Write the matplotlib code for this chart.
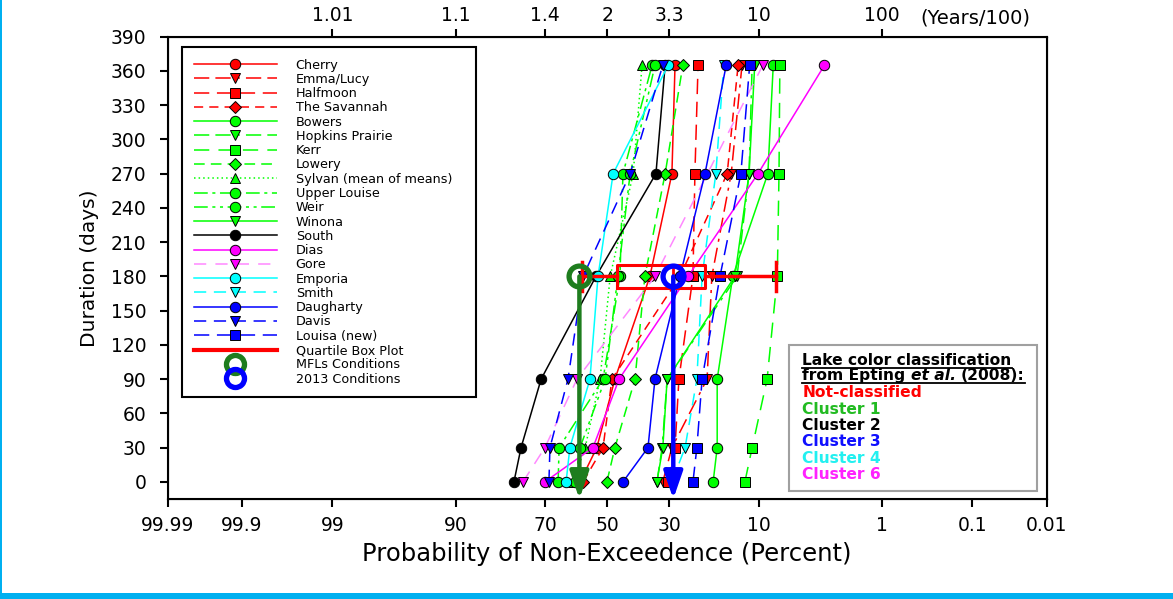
"""
Duration vs. probability of non-exceedence for lake stages (normal probability axis).
"""

from statistics import NormalDist

import matplotlib
matplotlib.use("Agg")
import matplotlib.pyplot as plt
import numpy as np
from matplotlib.lines import Line2D
from matplotlib.patches import Rectangle

# ---------------------------------------------------------------- data
DURATIONS = [0, 30, 90, 180, 270, 365]

# percent non-exceedence at each duration (None = not plotted)
cherry = [59.1, 53.5, 47.4, 35.9, 29.2, 28.3]
emma_lucy = [31.9, 29.2, 19.9, 18.8, 14.7, 12.7]
halfmoon = [30.3, 28.3, 27.2, 23.4, 22.9, 22.1]
the_savannah = [58.1, 51.4, 48.4, 26.9, 15.5, 13.4]
bowers = [18.5, 17.6, 17.6, 14.4, 8.7, 8.0]
hopkins_prairie = [33.7, 32.1, 30.6, 13.6, 11.5, 11.0]
kerr = [12.2, 11.0, 8.8, 7.5, 7.3, 7.2]
lowery = [50.1, 47.4, 40.7, 37.5, 31.2, 26.1]
sylvan = [61.4, 57.4, 52.4, 49.0, 41.3, 38.4]
upper_louise = [66.1, 65.8, 51.4, 45.7, 44.7, 35.2]
weir = [60.7, 59.1, 50.7, 46.4, 42.3, 34.3]
winona = [33.7, 31.9, 30.6, 14.0, 11.5, 10.6]
south = [78.5, 76.7, 71.2, 53.8, 34.0, 31.2]
dias = [70.1, 54.8, 46.0, 24.7, 10.1, 3.3]
gore = [76.2, 70.1, 60.1, 34.3, None, 9.4]
emporia = [63.6, 62.4, 55.8, 53.1, 48.0, 30.3]
smith = [29.2, 25.5, 22.4, 21.1, 17.9, 16.2]
daugharty = [44.7, 36.5, 34.3, 26.9, 20.4, 15.7]
davis = [68.9, 68.6, 63.0, 58.1, 42.3, 31.9]
louisa_new = [23.4, 22.4, 21.1, 17.0, 12.9, 11.4]

# quartile box plot of the 180-day values
BOX_DURATION = 180
box_stats = dict(whislo=58.4, q1=46.8, med=28.8, q3=20.4, whishi=7.6)

MFL_POINT = (59.3, 180)
POINT_2013 = (28.8, 180)

PROB_TICKS = [99.99, 99.9, 99, 90, 70, 50, 30, 10, 1, 0.1, 0.01]
PROB_LABELS = ["99.99", "99.9", "99", "90", "70", "50", "30", "10", "1", "0.1", "0.01"]
RETURN_TICKS = [99, 90, 70, 50, 30, 10, 1]
RETURN_LABELS = ["1.01", "1.1", "1.4", "2", "3.3", "10", "100"]

CLASS_LABELS = ["Not-classified", "Cluster 1", "Cluster 2", "Cluster 3", "Cluster 4", "Cluster 6"]
CLASS_COLORS = ["#FF0000", "#22BB22", "#000000", "#1010FF", "#22F0F0", "#FF22FF"]

# ---------------------------------------------------------------- styles
RED, GREEN, BLACK = "#FF0000", "#00FF00", "#000000"
MAGENTA, CYAN, BLUE = "#FF00FF", "#00FFFF", "#0000FF"
DARK_GREEN = "#1E7D1E"

DASHDOT2 = (0, (10, 4, 10, 4, 2, 4))
SERIES = [
    ("Cherry", cherry, RED, "o", "-"),
    ("Emma/Lucy", emma_lucy, RED, "v", DASHDOT2),
    ("Halfmoon", halfmoon, RED, "s", (0, (10, 5))),
    ("The Savannah", the_savannah, RED, "D", (0, (6, 4))),
    ("Bowers", bowers, GREEN, "o", "-"),
    ("Hopkins Prairie", hopkins_prairie, GREEN, "v", DASHDOT2),
    ("Kerr", kerr, GREEN, "s", (0, (10, 6))),
    ("Lowery", lowery, GREEN, "D", (0, (7, 4))),
    ("Sylvan (mean of means)", sylvan, GREEN, "^", (0, (1, 2))),
    ("Upper Louise", upper_louise, GREEN, "o", (0, (9, 3, 2, 3))),
    ("Weir", weir, GREEN, "o", (0, (9, 3, 2, 3, 2, 3))),
    ("Winona", winona, GREEN, "v", "-"),
    ("South", south, BLACK, "o", "-"),
    ("Dias", dias, MAGENTA, "o", "-"),
    ("Gore", gore, MAGENTA, "v", (0, (8, 6))),
    ("Emporia", emporia, CYAN, "o", "-"),
    ("Smith", smith, CYAN, "v", (0, (8, 5))),
    ("Daugharty", daugharty, BLUE, "o", "-"),
    ("Davis", davis, BLUE, "v", (0, (8, 5))),
    ("Louisa (new)", louisa_new, BLUE, "s", (0, (10, 5))),
]

W, H = 1173, 599


def fx(x):
    return x / W


def fy(y):
    return 1 - y / H


# ---------------------------------------------------------------- probability scale
_nd = NormalDist()


def _ppf_one(q):
    if not np.isfinite(q):
        return np.nan
    return _nd.inv_cdf(min(max(q, 1e-9), 1 - 1e-9))


_ppf = np.vectorize(_ppf_one, otypes=[float])
_cdf = np.vectorize(_nd.cdf, otypes=[float])


def prob_fwd(p):
    return _ppf(np.asarray(p, dtype=float) / 100.0)


def prob_inv(z):
    return 100.0 * _cdf(np.asarray(z, dtype=float))


# ---------------------------------------------------------------- figure
plt.rcParams["font.family"] = ["DejaVu Sans"]
fig = plt.figure(figsize=(W / 100, H / 100), dpi=100, facecolor="white")
ax = fig.add_axes([fx(167.7), fy(499), (1046.7 - 167.7) / W, (499 - 36.7) / H])

ax.set_xscale("function", functions=(prob_fwd, prob_inv))
ax.set_xlim(99.99, 0.01)
ax.set_ylim(-15, 390)

handles = []
for name, vals, color, marker, ls in SERIES:
    xs = [v for v in vals if v is not None]
    ys = [d for d, v in zip(DURATIONS, vals) if v is not None]
    lc = "#FF88FF" if name == "Gore" else color
    ln, = ax.plot(xs, ys, color=lc, ls=ls, lw=1.1, marker=marker, ms=7.5 if marker != "D" else 6.5,
                  mfc=color, mec="black", mew=0.7, label=name, zorder=3)
    handles.append(ln)

# quartile box plot at 180 days
bxp_kw = dict(positions=[BOX_DURATION], widths=20, capwidths=26, showfliers=False,
              manage_ticks=False, patch_artist=False,
              boxprops=dict(color="red", lw=2.2), whiskerprops=dict(color="red", lw=2.5),
              capprops=dict(color="red", lw=2.5), medianprops=dict(color="red", lw=2),
              zorder=4)
try:
    ax.bxp([dict(box_stats, fliers=[])], orientation="horizontal", **bxp_kw)
except TypeError:
    ax.bxp([dict(box_stats, fliers=[])], vert=False, **bxp_kw)

# MFL and 2013 conditions with arrows down to the axis
for (px_, py_), col in [(MFL_POINT, DARK_GREEN), (POINT_2013, BLUE)]:
    ax.annotate("", xy=(px_, -15), xytext=(px_, py_),
                arrowprops=dict(arrowstyle="-|>,head_length=1.1,head_width=0.38", lw=3.2,
                                color=col, mutation_scale=15, shrinkA=0, shrinkB=0),
                zorder=5)
    ax.plot(px_, py_, "o", ms=15, mfc="none", mec=col, mew=3.8, zorder=6)

# axes styling
ax.set_xticks(PROB_TICKS)
ax.set_xticklabels(PROB_LABELS)
ax.minorticks_off()
ax.set_yticks(range(0, 391, 30))
ax.tick_params(axis="x", direction="out", length=5.5, width=1.5, labelsize=13.5, pad=7)
ax.tick_params(axis="y", direction="out", length=5.5, width=1.5, labelsize=13.5, pad=10)
for sp in ax.spines.values():
    sp.set_linewidth(1.5)
ax.set_xlabel("Probability of Non-Exceedence (Percent)", fontsize=17.5, labelpad=5)
ax.set_ylabel("Duration (days)", fontsize=14.5, labelpad=8)

# top axis: return period
ax2 = ax.twiny()
ax2.set_xscale("function", functions=(prob_fwd, prob_inv))
ax2.set_xlim(ax.get_xlim())
ax2.set_xticks(RETURN_TICKS)
ax2.set_xticklabels(RETURN_LABELS)
ax2.minorticks_off()
ax2.tick_params(axis="x", direction="out", length=5.5, width=1.5, labelsize=13.5, pad=3)
fig.text(fx(920), fy(18), "(Years/100)", fontsize=14, ha="left", va="center")

# legend
handles.append(Line2D([], [], color="red", lw=3, label="Quartile Box Plot"))
handles.append(Line2D([], [], ls="none", marker="o", ms=13, mfc="none", mec=DARK_GREEN,
                      mew=3.8, label="MFLs Conditions"))
handles.append(Line2D([], [], ls="none", marker="o", ms=13, mfc="none", mec=BLUE,
                      mew=3.8, label="2013 Conditions"))
leg = ax.legend(handles=handles, loc="upper left",
                bbox_to_anchor=((182 - 167.7) / 879, 0.0, (476 - 182) / 879, (499 - 47) / 462.3),
                mode="expand", fontsize=9.2, handlelength=6.5, handletextpad=1.5,
                labelspacing=0.1, borderpad=0.9, borderaxespad=0, fancybox=False,
                edgecolor="black", framealpha=1)
leg.get_frame().set_linewidth(1.5)
leg.set_zorder(10)

# classification box
fig.add_artist(Rectangle((fx(789), fy(491)), (1037 - 789) / W, (491 - 345) / H,
                         transform=fig.transFigure, facecolor="white", edgecolor="#A0A0A0",
                         lw=1.5, zorder=2))
FS = 11.2
t_head = fig.text(fx(802.5), fy(365), "Lake color classification", fontsize=FS,
                  weight="bold", va="baseline", zorder=3)
t_a = fig.text(fx(802.5), fy(380), "from Epting", fontsize=FS, weight="bold",
               va="baseline", zorder=3)
fig.canvas.draw()
renderer = fig.canvas.get_renderer()
space = 5.2
bb_a = t_a.get_window_extent(renderer)
t_b = fig.text((bb_a.x1 + space) / W, fy(380), "et al.", fontsize=FS, weight="bold",
               style="italic", va="baseline", zorder=3)
bb_b = t_b.get_window_extent(renderer)
t_c = fig.text((bb_b.x1 + space) / W, fy(380), "(2008):", fontsize=FS, weight="bold",
               va="baseline", zorder=3)
bb_c = t_c.get_window_extent(renderer)
bb_h = t_head.get_window_extent(renderer)
for y_ul, x_end in [(367.5, bb_h.x1), (383, bb_c.x1)]:
    fig.add_artist(Line2D([fx(802.5), x_end / W], [fy(y_ul), fy(y_ul)],
                          transform=fig.transFigure, color="black", lw=1.3, zorder=3))
for i, (lab, col) in enumerate(zip(CLASS_LABELS, CLASS_COLORS)):
    fig.text(fx(802.5), fy(397.3 + i * 16.4), lab, fontsize=FS, weight="bold",
             color=col, va="baseline", zorder=3)

# frame border of the original picture
fig.add_artist(Rectangle((0, 0), 2 / W, 1, transform=fig.transFigure,
                         facecolor="#00B0F0", edgecolor="none", zorder=20))
fig.add_artist(Rectangle((0, 0), 1, 6 / H, transform=fig.transFigure,
                         facecolor="#00B0F0", edgecolor="none", zorder=20))

fig.savefig("out.png", dpi=100)
plt.close(fig)
